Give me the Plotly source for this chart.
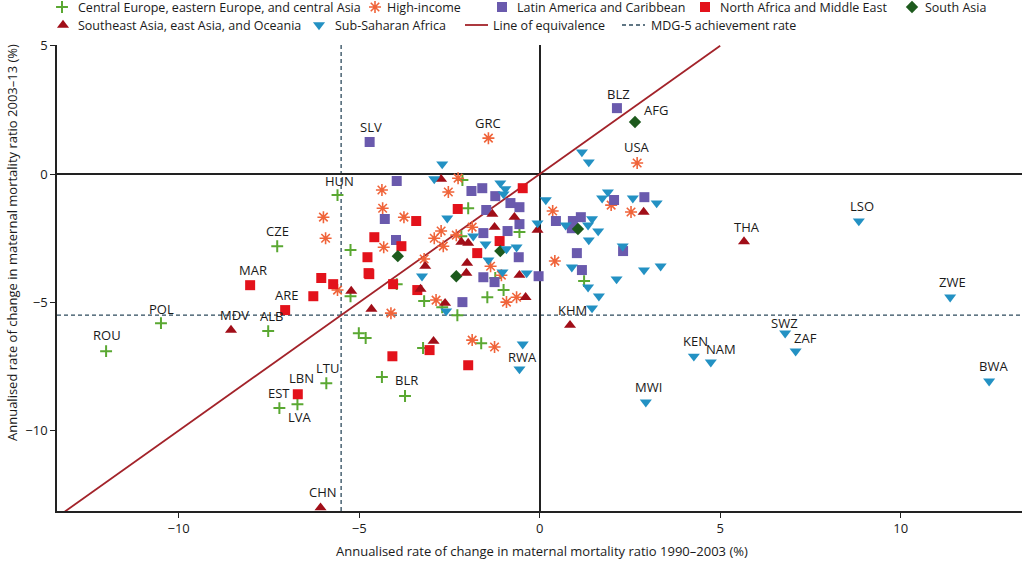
import plotly.graph_objects as go

# ---------------- data (annualised rate of change, %) ----------------
# x: 1990-2003, y: 2003-13
cee_x = [-12.01, -10.49, -7.52, -7.27, -5.60, -5.91, -7.21, -6.71, -3.73, -4.37, -5.01, -4.82, -3.23,
         -5.24, -3.96, -3.20, -2.70, -5.24, -2.28, -1.45, -1.00, -1.23, -2.14, -1.98, -2.17, -0.56,
         -1.62, 1.23]
cee_y = [-6.90, -5.81, -6.12, -2.81, -0.82, -8.15, -9.12, -8.97, -8.65, -7.91, -6.20, -6.39, -6.78,
         -4.76, -4.29, -4.95, -5.19, -2.96, -5.50, -4.80, -4.52, -4.05, -0.23, -1.33, -2.42, -2.26,
         -6.59, -4.17]
cee_lab = ["ROU", "POL", "ALB", "CZE", "HUN", "LTU", "EST", "LVA", "BLR"] + [""] * 19

hi_x = [-1.42, 2.70, -4.37, -4.35, -5.99, -5.93, -4.32, -5.60, -4.12, -3.76, -2.53, -2.26, -3.20,
        -2.92, -2.73, -2.31, -2.67, -1.87, -1.36, -1.06, -2.87, -0.64, -0.92, -1.87, -1.25, 0.42,
        0.36, 1.98, 2.53]
hi_y = [1.40, 0.43, -0.62, -1.33, -1.68, -2.50, -2.85, -4.52, -5.42, -1.68, -0.70, -0.16, -3.31,
        -2.50, -2.22, -2.38, -2.81, -2.07, -3.59, -3.94, -4.91, -4.80, -4.99, -6.47, -6.74, -3.39,
        -1.44, -1.21, -1.48]
hi_lab = ["GRC", "USA"] + [""] * 27

lac_x = [-4.71, 2.14, -3.96, -4.29, -3.98, -1.89, -1.59, -1.23, -0.81, -0.56, -1.48, -0.89, -0.56,
         -1.56, -0.58, -0.03, -1.56, -1.25, -2.14, 0.45, 0.92, 1.14, 0.89, 1.03, 1.17, 2.06, 2.90, 2.31]
lac_y = [1.25, 2.57, -0.27, -1.75, -2.57, -0.66, -0.55, -0.86, -1.13, -1.29, -1.40, -2.22, -1.95,
         -2.30, -3.24, -3.98, -4.02, -4.21, -4.99, -1.83, -1.83, -1.68, -2.11, -3.08, -3.74, -1.01,
         -0.90, -3.00]
lac_lab = ["SLV", "BLZ"] + [""] * 26

name_x = [-8.02, -7.05, -6.70, -6.05, -5.72, -6.27, -4.72, -4.06, -3.39, -4.08, -3.05, -1.98, -4.58,
          -4.77, -4.74, -3.83, -3.42, -2.27, -1.73, -1.11, -0.47]
name_y = [-4.33, -5.30, -8.58, -4.05, -4.29, -4.76, -3.90, -4.29, -4.52, -7.10, -6.86, -7.45, -2.46,
          -3.24, -3.86, -2.81, -1.83, -1.36, -3.08, -2.61, -0.55]
name_lab = ["MAR", "ARE", "LBN"] + [""] * 18

sa_x = [2.64, -3.93, -2.31, -1.09, 1.06]
sa_y = [2.03, -3.20, -3.98, -3.00, -2.14]
sa_lab = ["AFG", "", "", "", ""]

sea_x = [-8.55, -6.07, 0.84, 5.66, -5.22, -4.66, -3.30, -2.94, -2.62, -3.17, -2.73, -2.17, -1.98,
         -2.01, -2.03, -1.31, -0.70, -1.25, -0.56, -0.39, -0.06, 2.88]
sea_y = [-6.08, -13.00, -5.89, -2.63, -4.56, -5.26, -4.48, -6.51, -5.03, -3.59, -0.20, -2.65, -2.69,
         -3.47, -3.86, -1.56, -1.68, -2.07, -3.94, -4.80, -2.18, -1.48]
sea_lab = ["MDV", "CHN", "KHM", "THA"] + [""] * 18

ssa_x = [8.84, 11.37, 6.80, 7.09, 4.27, 4.74, 2.94, 12.45, -0.56, -0.47, -2.70, -2.92, -2.56, -3.26,
         -2.59, -1.84, -1.50, -1.42, -1.09, -0.95, -1.00, -0.92, -0.64, -1.03, -0.36, -0.06, 0.17,
         0.72, 1.17, 1.36, 1.45, 1.34, 1.62, 1.36, 0.89, 1.34, 1.64, 1.45, 1.89, 1.73, 2.58, 3.24,
         2.30, 2.13, 2.89, 3.35]
ssa_y = [-1.83, -4.80, -6.20, -6.90, -7.10, -7.33, -8.89, -8.07, -7.60, -6.63, 0.39, -0.19, -1.72,
         -3.98, -5.34, -2.42, -2.73, -3.35, -0.35, -0.58, -0.78, -2.92, -2.85, -3.82, -3.86, -1.91,
         -1.01, -1.99, 0.86, 0.47, -1.75, -1.99, -2.22, -2.57, -3.63, -4.41, -4.76, -5.22, -0.70,
         -0.94, -0.94, -1.13, -2.81, -4.09, -3.74, -3.59]
ssa_lab = ["LSO", "ZWE", "SWZ", "ZAF", "KEN", "NAM", "MWI", "BWA", "RWA"] + [""] * 37

MDG_RATE = -5.5
EQUIV = [-14, 5]
X_TICKS = [-10, -5, 0, 5, 10]
Y_TICKS = [-10, -5, 0, 5]
X_RANGE = [-13.37, 13.36]
Y_RANGE = [-13.13, 5.03]

regions = [
    ("Central Europe, eastern Europe, and central Asia", cee_x, cee_y, cee_lab),
    ("High-income", hi_x, hi_y, hi_lab),
    ("Latin America and Caribbean", lac_x, lac_y, lac_lab),
    ("North Africa and Middle East", name_x, name_y, name_lab),
    ("South Asia", sa_x, sa_y, sa_lab),
    ("Southeast Asia, east Asia, and Oceania", sea_x, sea_y, sea_lab),
    ("Sub-Saharan Africa", ssa_x, ssa_y, ssa_lab),
]

# ---------------- styles ----------------
FONT = "Open Sans"
TXT = "#1a1a1a"
styles = {
    "Central Europe, eastern Europe, and central Asia": dict(symbol="cross-thin-open", size=8.5, color="#5aa832", line=dict(color="#5aa832", width=2)),
    "High-income": dict(symbol="asterisk-open", size=10, color="#f0643a", line=dict(color="#f0643a", width=1.6)),
    "Latin America and Caribbean": dict(symbol="square", size=10, color="#6a5aad", line=dict(width=0)),
    "North Africa and Middle East": dict(symbol="square", size=10, color="#e3121b", line=dict(width=0)),
    "South Asia": dict(symbol="diamond", size=9.5, color="#1d5a1d", line=dict(width=0)),
    "Southeast Asia, east Asia, and Oceania": dict(symbol="triangle-up", size=10.5, color="#a10e18", line=dict(width=0)),
    "Sub-Saharan Africa": dict(symbol="triangle-down", size=10.5, color="#2391c3", line=dict(width=0)),
}
# label offsets in pixels (dx right, dy up)
label_offsets = {
    "ROU": (1, 16), "POL": (1, 14), "MDV": (3, 15), "ALB": (3, 15), "ARE": (1, 15),
    "MAR": (3, 15), "CZE": (0, 15), "HUN": (2, 14), "SLV": (1, 15), "GRC": (0, 15),
    "BLZ": (2, 14), "AFG": (21, 12), "USA": (0, 16), "LSO": (3, 15), "THA": (3, 15),
    "ZWE": (2, 15), "SWZ": (-1, 10), "ZAF": (10, 13), "KEN": (2, 15), "NAM": (10, 13),
    "MWI": (3, 15), "BWA": (4, 15), "KHM": (2, 15), "RWA": (3, 12), "BLR": (1, 16),
    "LTU": (1, 15), "LBN": (4, 16), "EST": (0, 15), "LVA": (3, -13), "CHN": (2, 16),
}

EQ_COLOR = "#a3232a"
MDG_COLOR = "#2d4a5c"

# frame geometry (pixels)
W, H = 1024, 564
L, R, T, B = 57, 1022, 45, 511
PAPER_H = B  # top margin 0

def px2paper(px, py):
    return (px - L) / (R - L), (B - py) / PAPER_H

fig = go.Figure()

# line of equivalence
fig.add_trace(go.Scatter(x=EQUIV, y=EQUIV, mode="lines", line=dict(color=EQ_COLOR, width=1.8),
                         hoverinfo="skip"))

for name, xs, ys, labs in regions:
    st = styles[name]
    fig.add_trace(go.Scatter(x=xs, y=ys, mode="markers", name=name,
                             marker=dict(symbol=st["symbol"], size=st["size"], color=st["color"],
                                         line=st["line"]), cliponaxis=False))

# MDG-5 achievement rate
fig.add_hline(y=MDG_RATE, line=dict(color=MDG_COLOR, width=1.3, dash="4px,3px"), layer="below")
fig.add_vline(x=MDG_RATE, line=dict(color=MDG_COLOR, width=1.3, dash="4px,3px"), layer="below")

annotations = []
for name, xs, ys, labs in regions:
    for x, y, lab in zip(xs, ys, labs):
        if lab:
            dx, dy = label_offsets[lab]
            annotations.append(dict(x=x, y=y, xref="x", yref="y", text=lab, showarrow=False,
                                    xshift=dx, yshift=dy, font=dict(family=FONT, size=13, color=TXT)))

# ---------------- custom legend (own subplot above the chart) ----------------
legend_items = [
    # (name, marker x, text x, row y)  -- pixel positions
    ("Central Europe, eastern Europe, and central Asia", 62, 76, 7),
    ("High-income", 375, 385, 7),
    ("Latin America and Caribbean", 502, 515, 7),
    ("North Africa and Middle East", 705, 718, 7),
    ("South Asia", 912, 923, 7),
    ("Southeast Asia, east Asia, and Oceania", 63, 76, 25),
    ("Sub-Saharan Africa", 319, 333, 25),
]
for name, mx, tx, ty in legend_items:
    st = styles[name]
    fig.add_trace(go.Scatter(x=[mx], y=[ty], xaxis="x3", yaxis="y3", mode="markers",
                             marker=dict(symbol=st["symbol"], size=st["size"], color=st["color"],
                                         line=st["line"]), cliponaxis=False, hoverinfo="skip"))
    px_, py_ = px2paper(tx, ty)
    annotations.append(dict(x=px_, y=py_, xref="paper", yref="paper", text=name, showarrow=False,
                            xanchor="left", yanchor="middle", font=dict(family=FONT, size=12.5, color=TXT)))

line_items = [("Line of equivalence", 465, 488, 491, 25, EQ_COLOR, "solid", 1.8),
              ("MDG-5 achievement rate", 622, 645, 649, 25, MDG_COLOR, "4px,3px", 1.3)]
shapes = []
for name, x0, x1, tx, ty, col, dash, w in line_items:
    a0, b0 = px2paper(x0, ty)
    a1, _ = px2paper(x1, ty)
    shapes.append(dict(type="line", xref="paper", yref="paper", x0=a0, x1=a1, y0=b0, y1=b0,
                       line=dict(color=col, width=w, dash=dash)))
    px_, py_ = px2paper(tx, ty)
    annotations.append(dict(x=px_, y=py_, xref="paper", yref="paper", text=name, showarrow=False,
                            xanchor="left", yanchor="middle", font=dict(family=FONT, size=12.5, color=TXT)))

# axis titles
ax_font = dict(family=FONT, size=13, color=TXT)
px_, py_ = px2paper(542, 551)
annotations.append(dict(x=px_, y=py_, xref="paper", yref="paper", showarrow=False,
                        text="Annualised rate of change in maternal mortality ratio 1990–2003 (%)",
                        xanchor="center", yanchor="middle", font=ax_font))
px_, py_ = px2paper(12, 243)
annotations.append(dict(x=px_, y=py_, xref="paper", yref="paper", showarrow=False, textangle=-90,
                        text="Annualised rate of change in maternal mortality ratio 2003–13 (%)",
                        xanchor="center", yanchor="middle", font=ax_font))

for s in shapes:
    fig.add_shape(**s)

main_top = (B - T) / PAPER_H
axis_common = dict(ticks="outside", ticklen=5, tickwidth=1.3, tickcolor="#222", showline=True,
                   linecolor="#222", linewidth=1.5, showgrid=False, zeroline=True,
                   zerolinecolor="#222", zerolinewidth=1.5,
                   tickfont=dict(family=FONT, size=13, color=TXT))

fig.update_layout(
    width=W, height=H,
    margin=dict(l=L, r=W - R, t=0, b=H - B, autoexpand=False),
    plot_bgcolor="white", paper_bgcolor="white",
    showlegend=False,
    annotations=annotations,
    font=dict(family=FONT, size=13, color=TXT),
    xaxis=dict(range=X_RANGE, tickvals=X_TICKS, **axis_common),
    yaxis=dict(range=Y_RANGE, tickvals=Y_TICKS, domain=[0, main_top], **axis_common),
    xaxis3=dict(range=[L, R], visible=False, anchor="y3", domain=[0, 1]),
    yaxis3=dict(range=[T, 0], visible=False, anchor="x3", domain=[main_top, 1]),
)

fig.write_html("out.html", config={"displayModeBar": False},
               post_script="document.body.style.margin='0';document.body.style.overflow='hidden';")
